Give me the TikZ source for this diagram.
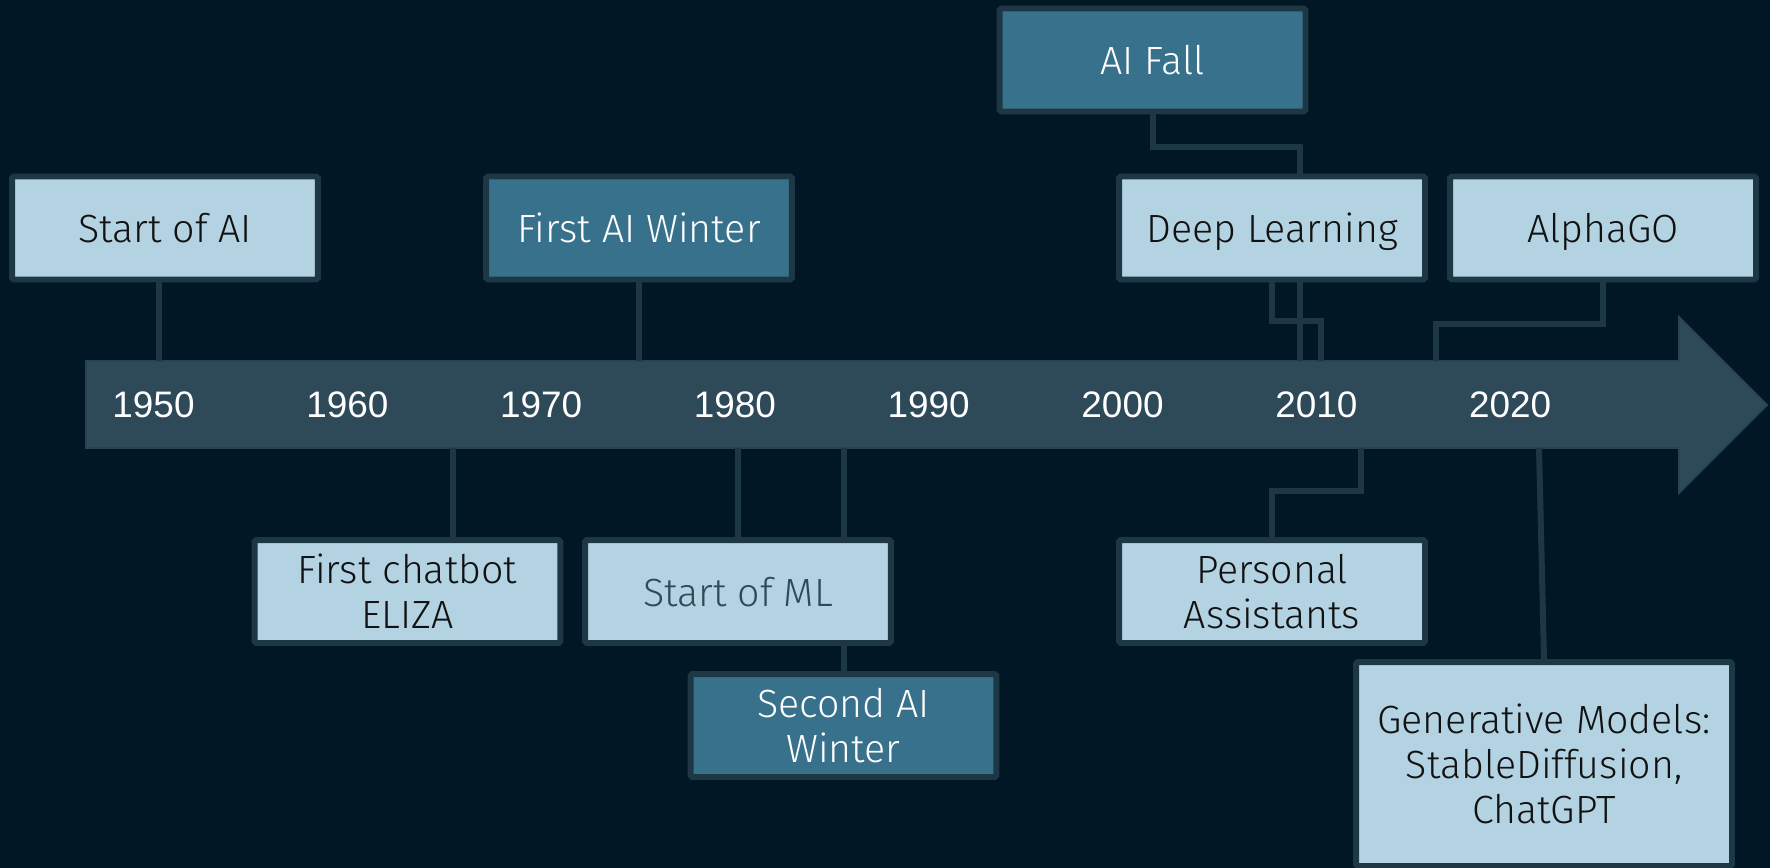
\documentclass[tikz,border=0pt]{standalone}
\usepackage{fontspec}
\usetikzlibrary{calc}
\newfontfamily\boxfont{Fira Sans}[UprightFont={* Light}]
\newfontfamily\yearfont{Liberation Sans}
\definecolor{tlbg}{HTML}{011726}
\definecolor{tlbar}{HTML}{2E4A59}
\definecolor{tlbarline}{HTML}{284452}
\definecolor{tlwire}{HTML}{1D3745}
\definecolor{tlpale}{HTML}{B3D3E3}
\definecolor{tlteal}{HTML}{38718C}
\definecolor{tlink}{HTML}{111111}
\pgfdeclarelayer{bg}
\pgfdeclarelayer{wires}
\pgfsetlayers{bg,wires,main}
\tikzset{
	boxbase/.style={draw=tlwire,line width=3.4pt,rounded corners=1pt,minimum width=6.12cm,minimum height=2.06cm,inner sep=0pt,text depth=0pt,align=center,font=\boxfont\fontsize{22.4}{25.6}\selectfont},
	lightbox/.style={boxbase,fill=tlpale,text=tlink},
	darkbox/.style={boxbase,fill=tlteal,text=white},
	wire/.style={draw=tlwire,line width=3.4pt},
	yearlabel/.style={text=white,inner sep=0pt,font=\yearfont\fontsize{21}{24}\selectfont}
}
\begin{document}
\begin{tikzpicture}[x=0.02cm,y=-0.02cm]
			\begin{pgfonlayer}{bg}
			\fill[tlbg] (0,0) rectangle (1770,868);
			%truc thoi gian
			\filldraw[fill=tlbar,draw=tlbarline,line width=1pt] (86,361) -- (1679,361) -- (1679,317) -- (1767,405) -- (1679,493) -- (1679,448) -- (86,448) -- cycle;
			\end{pgfonlayer}
			\useasboundingbox (0,0) rectangle (1770,868);
			\coordinate (bartop) at (0,361);
			\coordinate (barbot) at (0,448);
			%nam
			\node[yearlabel] (y1950) at (153.5,405) {1950};
			\node[yearlabel] (y1960) at (347.3,405) {1960};
			\node[yearlabel] (y1970) at (541.1,405) {1970};
			\node[yearlabel] (y1980) at (734.9,405) {1980};
			\node[yearlabel] (y1990) at (928.7,405) {1990};
			\node[yearlabel] (y2000) at (1122.5,405) {2000};
			\node[yearlabel] (y2010) at (1316.3,405) {2010};
			\node[yearlabel] (y2020) at (1510.1,405) {2020};
			%tren
			\node[lightbox] (start) at (165,228) {Start of AI};
			\node[darkbox] (winter1) at (639,228) {First AI Winter};
			\node[darkbox] (fall) at (1152.5,60) {AI Fall};
			\node[lightbox] (deep) at (1272,228) {Deep Learning};
			\node[lightbox] (alphago) at (1603,228) {AlphaGO};
			%duoi
			\node[lightbox] (eliza) at (407.5,591.5) {First chatbot\\ELIZA};
			\node[lightbox,text=tlbar] (ml) at (738,591.5) {Start of ML};
			\node[darkbox] (winter2) at (843.5,725.5) {Second AI\\Winter};
			\node[lightbox] (assist) at (1272,591.5) {Personal\\Assistants};
			\node[lightbox,minimum width=7.52cm,minimum height=4.08cm] (gen) at (1544,764) {Generative Models:\\StableDiffusion,\\ChatGPT};
			%noi
			\coordinate (fallbend) at (1300,147);
			\coordinate (deepbend) at (1321,321);
			\coordinate (gobend) at (1436,324);
			\coordinate (asbend) at (1361,491);
			\begin{pgfonlayer}{wires}
			\draw[wire] ($(start.south)+(-6,0)$) coordinate (s1) -- (s1 |- bartop);
			\draw[wire] (winter1.south) -- (winter1.south |- bartop);
			\draw[wire] (fall.south) |- (fallbend) -- (fallbend |- bartop);
			\draw[wire] (deep.south) |- (deepbend) -- (deepbend |- bartop);
			\draw[wire] (alphago.south) |- (gobend) -- (gobend |- bartop);
			\draw[wire] ($(eliza.north)+(45.5,0)$) coordinate (e1) -- (e1 |- barbot);
			\draw[wire] (ml.north) -- (ml.north |- barbot);
			\draw[wire] (winter2.north) -- (winter2.north |- barbot);
			\draw[wire] (assist.north) |- (asbend) -- (asbend |- barbot);
			\draw[wire] (gen.north) -- ($(gen.north |- barbot)+(-5,0)$);
			\end{pgfonlayer}
		\end{tikzpicture}
\end{document}
